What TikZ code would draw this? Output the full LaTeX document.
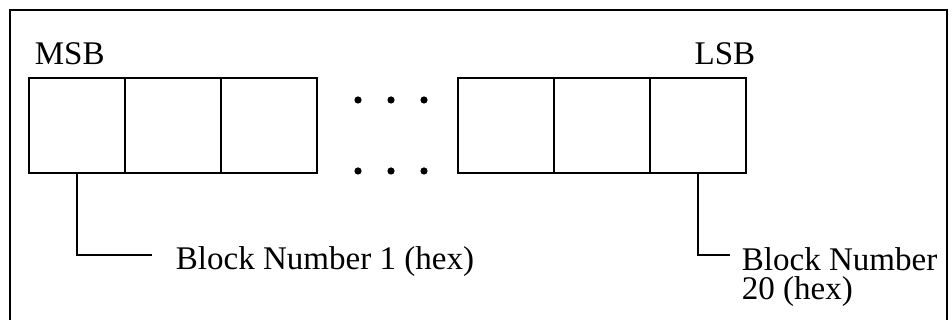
\documentclass[tikz,border=0pt]{standalone}
\usepackage{fontspec}
\setmainfont{Liberation Serif}
\usetikzlibrary{positioning}
\begin{document}
\begin{tikzpicture}[line width=1.2pt]
	\tikzstyle{cell}=[draw,shape=rectangle,minimum width=2.4cm,minimum height=2.375cm,inner sep=0pt,outer sep=0pt]
	\tikzstyle{dot}=[fill,shape=circle,inner sep=0pt,minimum size=0.18cm]
	\tikzstyle{lbl}=[inner sep=0pt,font=\fontsize{23.5}{21.3}\selectfont]

	\useasboundingbox (0,0) rectangle (23.8,8);
	% frame, open at the bottom
	\draw (0.25,-0.1) -- (0.25,7.75) -- (23.675,7.75) -- (23.675,-0.1);

	\node[cell](b1) at (1.925,4.8625){};
	\node[cell,right=0pt of b1](b2){};
	\node[cell,right=0pt of b2](b3){};

	\node[cell](b4) at (12.65,4.8625){};
	\node[cell,right=0pt of b4](b5){};
	\node[cell,right=0pt of b5](b6){};

	\foreach \x [count=\i] in {8.95,9.775,10.6}{
		\node[dot](u\i) at (\x,5.5){};
		\node[dot](d\i) at (\x,3.725){};
	}

	\node[lbl,anchor=base west](msb) at (0.85,6.375){MSB};
	\node[lbl,anchor=base east](lsb) at (18.9,6.375){LSB};

	\node[lbl,anchor=base west](blk1) at (4.375,1.25){Block Number 1 (hex)};
	% base of a two-line node is its last line
	\node[lbl,anchor=base west,align=left](blk20) at (18.525,0.5){Block Number\\20 (hex)};

	\coordinate (e1) at (3.8,1.625);
	\coordinate (e20) at (18.25,1.625);
	\draw (b1.south) |- (e1);
	\draw (b6.south) |- (e20);
\end{tikzpicture}
\end{document}
